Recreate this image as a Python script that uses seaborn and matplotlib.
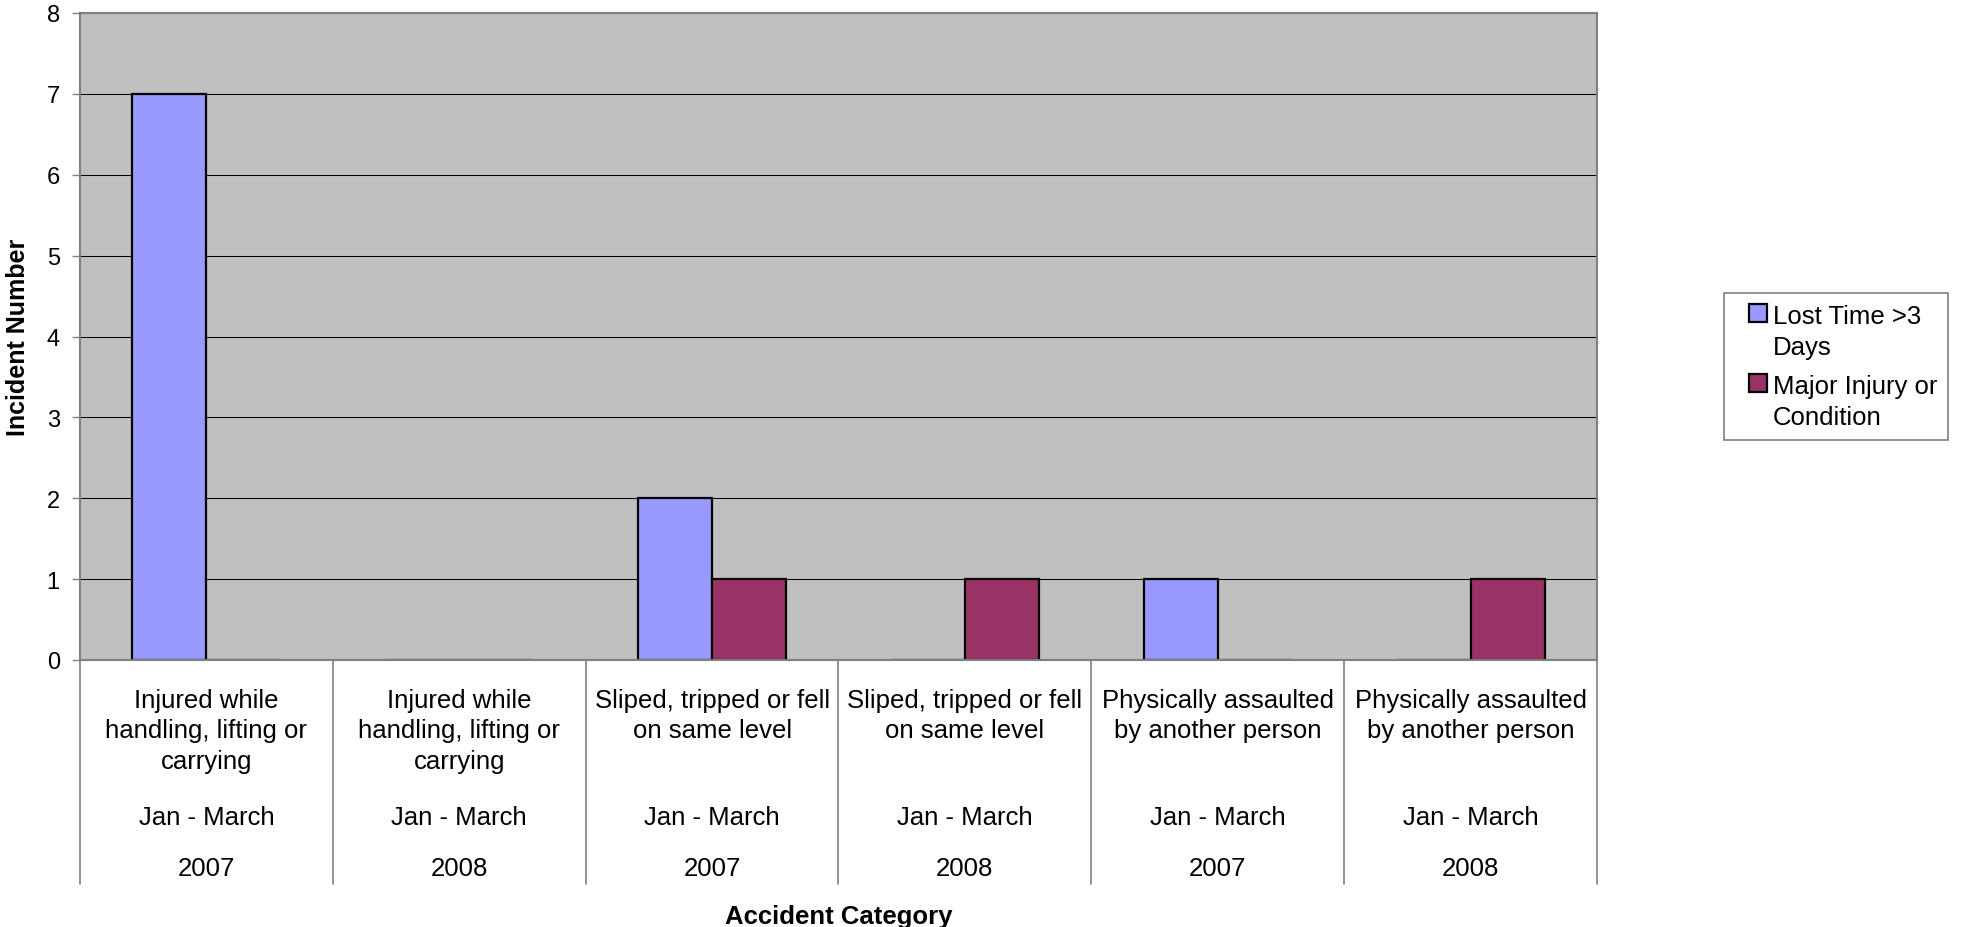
import pandas as pd
import matplotlib.pyplot as plt
import matplotlib.transforms as mtransforms
import seaborn as sns

# Chart data
categories = [
    "Injured while\nhandling, lifting or\ncarrying",
    "Injured while\nhandling, lifting or\ncarrying",
    "Sliped, tripped or fell\non same level",
    "Sliped, tripped or fell\non same level",
    "Physically assaulted\nby another person",
    "Physically assaulted\nby another person",
]
periods = ["Jan - March"] * 6
years = ["2007", "2008", "2007", "2008", "2007", "2008"]

series_names = ["Lost Time >3 Days", "Major Injury or Condition"]
legend_labels = ["Lost Time >3\nDays", "Major Injury or\nCondition"]
lost_time = [7, 0, 2, 0, 1, 0]
major_injury = [0, 0, 1, 1, 0, 1]

colors = ["#9999FF", "#993366"]

# Long table for seaborn
keys = [f"{c} {p} {y}" for c, p, y in zip(categories, periods, years)]
df = pd.DataFrame({
    "key": keys * 2,
    "value": lost_time + major_injury,
    "series": [series_names[0]] * 6 + [series_names[1]] * 6,
})

sns.set_style("white")
plt.rcParams["font.family"] = ["Liberation Sans", "DejaVu Sans"]
plt.rcParams["text.color"] = "black"
plt.rcParams["axes.labelcolor"] = "black"

W, H = 1961, 928
fig = plt.figure(figsize=(W / 100, H / 100), dpi=100)
ax_left, ax_right, ax_top, ax_bottom = 80, 1597, 14, 661
ax = fig.add_axes([ax_left / W, 1 - ax_bottom / H,
                   (ax_right - ax_left) / W, (ax_bottom - ax_top) / H])
ax.set_facecolor("#C0C0C0")

sns.barplot(data=df, x="key", y="value", hue="series", order=keys,
            hue_order=series_names, palette=colors, saturation=1, width=0.585,
            edgecolor="black", linewidth=1.6, errorbar=None, ax=ax)

ax.set_ylim(0, 8)
ax.set_xlim(-0.5, 5.5)
ax.set_yticks(range(0, 9))
ax.yaxis.grid(True, color="black", linewidth=0.75)
ax.set_axisbelow(True)
ax.tick_params(axis="y", left=True, length=6, width=1, color="#808080",
               pad=8.5, labelsize=17, labelcolor="black")
ax.tick_params(axis="x", bottom=False, labelbottom=False)
for s in ax.spines.values():
    s.set_color("#808080")
    s.set_linewidth(1.5)
    s.set_zorder(5)

ax_h = ax_bottom - ax_top


def ay(px):
    # figure pixel row -> axes fraction
    return (ax_bottom - px) / ax_h


# Multi-level category labels
trans = mtransforms.blended_transform_factory(ax.transData, ax.transAxes)
for i in range(len(keys)):
    for j, line in enumerate(categories[i].split("\n")):
        ax.text(i, ay(708 + j * 30.5), line, transform=trans, ha="center",
                va="baseline", fontsize=18.5)
    ax.text(i, ay(825), periods[i], transform=trans, ha="center",
            va="baseline", fontsize=18.5)
    ax.text(i, ay(876), years[i], transform=trans, ha="center",
            va="baseline", fontsize=18.5)
for b in [k - 0.5 for k in range(len(keys) + 1)]:
    ax.plot([b, b], [0, ay(885)], transform=trans, color="#808080",
            linewidth=1.2, clip_on=False)

ax.set_xlabel("Accident Category", fontsize=18.5, fontweight="bold")
ax.xaxis.set_label_coords(0.5, ay(905))
ax.set_ylabel("Incident Number", fontsize=18, fontweight="bold")
ax.yaxis.set_label_coords((30 - ax_left) / (ax_right - ax_left), 0.5)

# Legend
fs = 18.5
fs_px = fs * 100 / 72
handles, _ = ax.get_legend_handles_labels()
leg = ax.legend(handles, legend_labels, loc="upper left",
                bbox_to_anchor=(1724 / W, 1 - 294 / H),
                bbox_transform=fig.transFigure, borderaxespad=0, fontsize=fs,
                frameon=True, fancybox=False, edgecolor="#808080",
                framealpha=1, borderpad=0.42, handlelength=32 / fs_px,
                handleheight=0.75, handletextpad=6 / fs_px, labelspacing=0.55)
leg.get_frame().set_linewidth(1.2)
for t in leg.get_texts():
    t.set_linespacing(1.4)

# put each legend square beside the first line of its label
fig.canvas.draw()
px2pt = 72 / 100
for patch, text in zip(leg.get_patches(), leg.get_texts()):
    t_bb = text.get_window_extent()
    p_bb = patch.get_window_extent()
    patch.set_x(patch.get_x() + 14 * px2pt)
    patch.set_width(18 * px2pt)
    patch.set_height(18 * px2pt)
    patch.set_y(patch.get_y() + (t_bb.y1 - 18 - p_bb.y0) * px2pt)

fig.savefig("out.png", dpi=100)
